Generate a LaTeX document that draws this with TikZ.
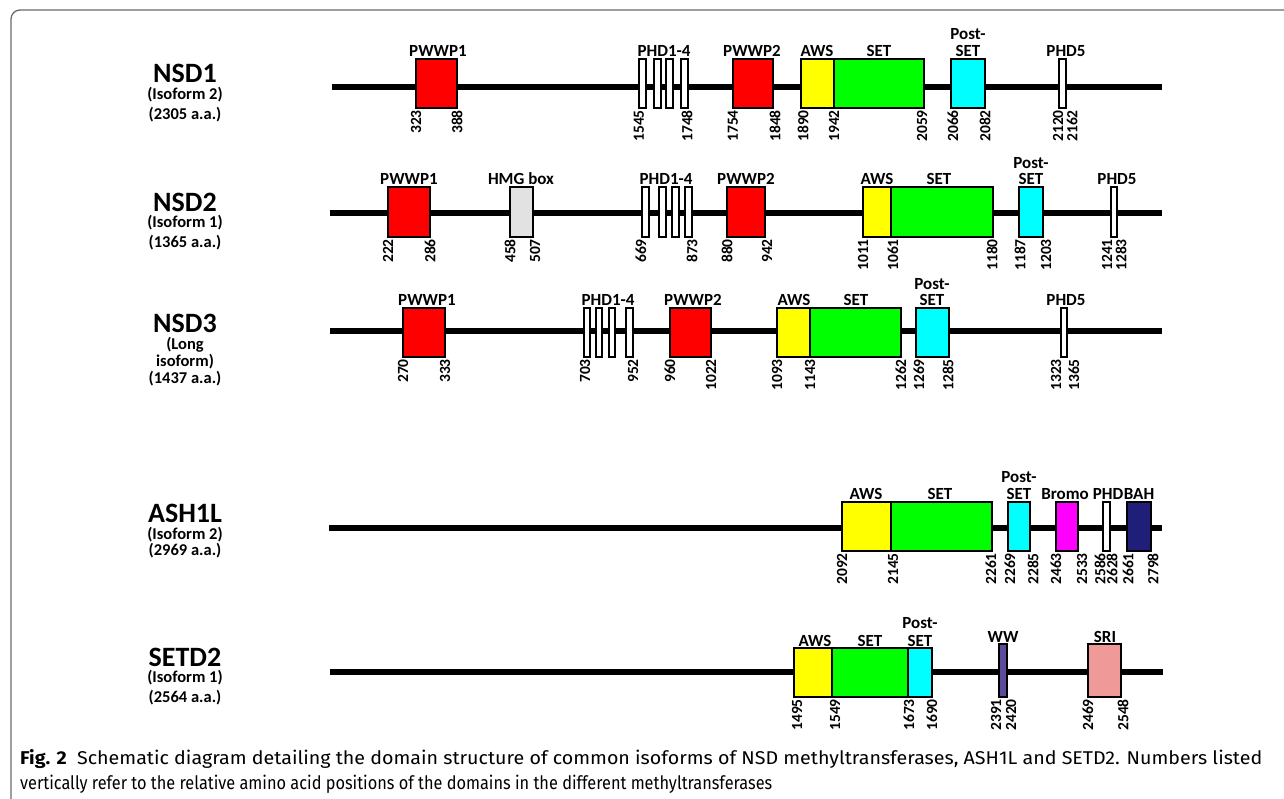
\documentclass[tikz,border=0pt]{standalone}
\usepackage{graphicx}
\usepackage{fontspec}
\setmainfont{Carlito}
\newfontfamily\capfont{Fira Sans}
\definecolor{cred}{HTML}{FF0000}
\definecolor{cyel}{HTML}{FFFF00}
\definecolor{cgrn}{HTML}{00FF00}
\definecolor{ccyan}{HTML}{00FFFF}
\definecolor{cmag}{HTML}{FF00FF}
\definecolor{cnavy}{HTML}{1F1F7A}
\definecolor{cpurp}{HTML}{5E4B9E}
\definecolor{cpink}{HTML}{F09999}
\definecolor{cgray}{HTML}{E2E2E2}
\definecolor{cframe}{HTML}{6A6A6A}
\newcounter{nc}
\tikzset{
  backbone/.style={line width=6pt},
  dbox/.style={draw, line width=1.8pt, inner sep=0pt, outer sep=0pt},
  nlab/.style={rotate=90, anchor=east, inner sep=0pt, font=\bfseries\fontsize{15.5}{16}\selectfont},
  dlab/.style={anchor=base, inner sep=0pt, font=\bfseries\fontsize{17}{18}\selectfont},
  ttl/.style={anchor=base, inner sep=0pt, font=\bfseries\fontsize{28}{30}\selectfont},
  sttl/.style={anchor=base, inner sep=0pt, font=\bfseries\fontsize{16.5}{18}\selectfont},
  capt/.style={anchor=base west, inner sep=0pt, font=\capfont\fontsize{18.5}{20}\selectfont},
}
% box: x1, x2, ytop, ybot, fill
\newcommand\db[5]{\stepcounter{nc}\pgfmathsetmacro\bwid{#2-#1}\pgfmathsetmacro\bhei{#4-#3}%
  \node[dbox, fill=#5, minimum width=\bwid pt, minimum height=\bhei pt, anchor=north west] (box\arabic{nc}) at (#1,#3) {};}
% number: x, ytop, text
\newcommand\nm[3]{\stepcounter{nc}\node[nlab] (num\arabic{nc}) at (#1,#2) {#3};}
% label: x, ybase, text
\newcommand\lb[3]{\stepcounter{nc}\node[dlab] (lab\arabic{nc}) at (#1,#2) {#3};}
\begin{document}
\begin{tikzpicture}[x=1pt,y=-1pt]
\useasboundingbox (0,0) rectangle (1284,799);
\fill[white] (0,0) rectangle (1284,799);
% frame
\coordinate (fr1) at (11,810);
\coordinate (fr2) at (11,10);
\coordinate (fr3) at (1300,10);
\draw[cframe, line width=1.3pt, rounded corners=9pt] (fr1) -- (fr2) -- (fr3);

% ---------------- NSD1 ----------------
\node[ttl] (t1) at (185,83) {NSD1};
\node[sttl] (t1a) at (185,100) {(Isoform 2)};
\node[sttl] (t1b) at (185,120) {(2305 a.a.)};
\coordinate (b1s) at (332,87); \coordinate (b1e) at (1162,87);
\draw[backbone] (b1s) -- (b1e);
\db{416}{457}{59}{108}{cred}
\db{639}{646}{59}{108}{white}\db{654}{661}{59}{108}{white}\db{666}{673}{59}{108}{white}\db{681}{688}{59}{108}{white}
\db{733}{773}{59}{108}{cred}
\db{801}{834}{59}{108}{cyel}\db{834}{924}{59}{108}{cgrn}
\db{951}{985}{59}{108}{ccyan}
\db{1059}{1066}{59}{108}{white}
\lb{438}{57}{PWWP1}\lb{664}{57}{PHD1-4}\lb{752}{57}{PWWP2}\lb{817}{57}{AWS}\lb{879}{57}{SET}
\lb{968}{40}{Post-}\lb{968}{57}{SET}\lb{1066}{57}{PHD5}
\nm{416}{110}{323}\nm{457}{110}{388}\nm{639}{110}{1545}\nm{687}{110}{1748}
\nm{733}{110}{1754}\nm{775}{110}{1848}\nm{803}{110}{1890}\nm{834}{110}{1942}\nm{922}{110}{2059}
\nm{953}{110}{2066}\nm{985}{110}{2082}\nm{1058}{110}{2120}\nm{1072}{110}{2162}

% ---------------- NSD2 ----------------
\node[ttl] (t2) at (185,212) {NSD2};
\node[sttl] (t2a) at (185,228) {(Isoform 1)};
\node[sttl] (t2b) at (185,248) {(1365 a.a.)};
\coordinate (b2s) at (330,213); \coordinate (b2e) at (1162,213);
\draw[backbone] (b2s) -- (b2e);
\db{388}{430}{187}{237}{cred}
\db{510}{533}{187}{237}{cgray}
\db{642}{649}{187}{237}{white}\db{659}{666}{187}{237}{white}\db{672}{679}{187}{237}{white}\db{685}{692}{187}{237}{white}
\db{727}{765}{187}{237}{cred}
\db{863}{891}{187}{237}{cyel}\db{891}{993}{187}{237}{cgrn}
\db{1019}{1043}{187}{237}{ccyan}
\db{1111}{1117}{187}{237}{white}
\lb{409}{185}{PWWP1}\lb{521}{185}{HMG box}\lb{666}{185}{PHD1-4}\lb{746}{185}{PWWP2}
\lb{877}{185}{AWS}\lb{939}{185}{SET}\lb{1031}{169}{Post-}\lb{1031}{185}{SET}\lb{1117}{185}{PHD5}
\nm{388}{239}{222}\nm{430}{239}{286}\nm{510}{239}{458}\nm{535}{239}{507}
\nm{641}{239}{669}\nm{692}{239}{873}\nm{727}{239}{880}\nm{767}{239}{942}
\nm{863}{239}{1011}\nm{893}{239}{1061}\nm{992}{239}{1180}\nm{1020}{239}{1187}\nm{1046}{239}{1203}
\nm{1107}{239}{1241}\nm{1121}{239}{1283}

% ---------------- NSD3 ----------------
\node[ttl] (t3) at (185,333) {NSD3};
\node[sttl] (t3a) at (185,349) {(Long};
\node[sttl] (t3b) at (185,366) {isoform)};
\node[sttl] (t3c) at (185,383) {(1437 a.a.)};
\coordinate (b3s) at (330,331); \coordinate (b3e) at (1162,331);
\draw[backbone] (b3s) -- (b3e);
\db{403}{445}{308}{357}{cred}
\db{584}{590}{308}{357}{white}\db{596}{602}{308}{357}{white}\db{609}{615}{308}{357}{white}\db{626}{633}{308}{357}{white}
\db{670}{711}{308}{357}{cred}
\db{777}{810}{308}{357}{cyel}\db{810}{901}{308}{357}{cgrn}
\db{916}{949}{308}{357}{ccyan}
\db{1061}{1067}{308}{357}{white}
\lb{427}{306}{PWWP1}\lb{608}{306}{PHD1-4}\lb{693}{306}{PWWP2}\lb{794}{306}{AWS}\lb{856}{306}{SET}
\lb{932}{290}{Post-}\lb{932}{306}{SET}\lb{1066}{306}{PHD5}
\nm{403}{359}{270}\nm{445}{359}{333}\nm{585}{359}{703}\nm{633}{359}{952}
\nm{670}{359}{960}\nm{711}{359}{1022}\nm{777}{359}{1093}\nm{810}{359}{1143}\nm{901}{359}{1262}
\nm{919}{359}{1269}\nm{948}{359}{1285}\nm{1056}{359}{1323}\nm{1074}{359}{1365}

% ---------------- ASH1L ----------------
\node[ttl] (t4) at (185,522) {ASH1L};
\node[sttl] (t4a) at (185,539) {(Isoform 2)};
\node[sttl] (t4b) at (185,555) {(2969 a.a.)};
\coordinate (b4s) at (329,528); \coordinate (b4e) at (1162,528);
\draw[backbone] (b4s) -- (b4e);
\db{842}{891}{502}{551}{cyel}\db{891}{992}{502}{551}{cgrn}
\db{1008}{1030}{502}{551}{ccyan}
\db{1056}{1078}{502}{551}{cmag}
\db{1103}{1110}{502}{551}{white}
\db{1127}{1151}{502}{551}{cnavy}
\lb{866}{499}{AWS}\lb{940}{499}{SET}\lb{1019}{482}{Post-}\lb{1019}{499}{SET}
\lb{1065}{499}{Bromo}\lb{1108}{499}{PHD}\lb{1139}{499}{BAH}
\nm{842}{553}{2092}\nm{893}{553}{2145}\nm{991}{553}{2261}\nm{1010}{553}{2269}\nm{1033}{553}{2285}
\nm{1056}{553}{2463}\nm{1082}{553}{2533}\nm{1100}{553}{2586}\nm{1112}{553}{2628}
\nm{1128}{553}{2661}\nm{1153}{553}{2798}

% ---------------- SETD2 ----------------
\node[ttl] (t5) at (185,666) {SETD2};
\node[sttl] (t5a) at (185,682) {(Isoform 1)};
\node[sttl] (t5b) at (185,702) {(2564 a.a.)};
\coordinate (b5s) at (330,672); \coordinate (b5e) at (1163,672);
\draw[backbone] (b5s) -- (b5e);
\db{794}{832}{648}{697}{cyel}\db{832}{908}{648}{697}{cgrn}\db{908}{932}{648}{697}{ccyan}
\db{999}{1007}{644}{697}{cpurp}
\db{1088}{1121}{644}{697}{cpink}
\lb{815}{646}{AWS}\lb{870}{646}{SET}\lb{920}{628}{Post-}\lb{920}{646}{SET}
\lb{1003}{642}{WW}\lb{1105}{642}{SRI}
\nm{797}{699}{1495}\nm{835}{699}{1549}\nm{909}{699}{1673}\nm{932}{699}{1690}
\nm{996}{699}{2391}\nm{1011}{699}{2420}\nm{1088}{699}{2469}\nm{1123}{699}{2548}

% ---------------- caption ----------------
\node[capt] (cap1) at (20,764) {\resizebox{1242pt}{\height}{\textbf{Fig. 2}\ \ Schematic diagram detailing the domain structure of common isoforms of NSD methyltransferases, ASH1L and SETD2. Numbers listed}};
\node[capt] (cap2) at (20,789) {\resizebox{752pt}{\height}{vertically refer to the relative amino acid positions of the domains in the different methyltransferases}};
\end{tikzpicture}
\end{document}
